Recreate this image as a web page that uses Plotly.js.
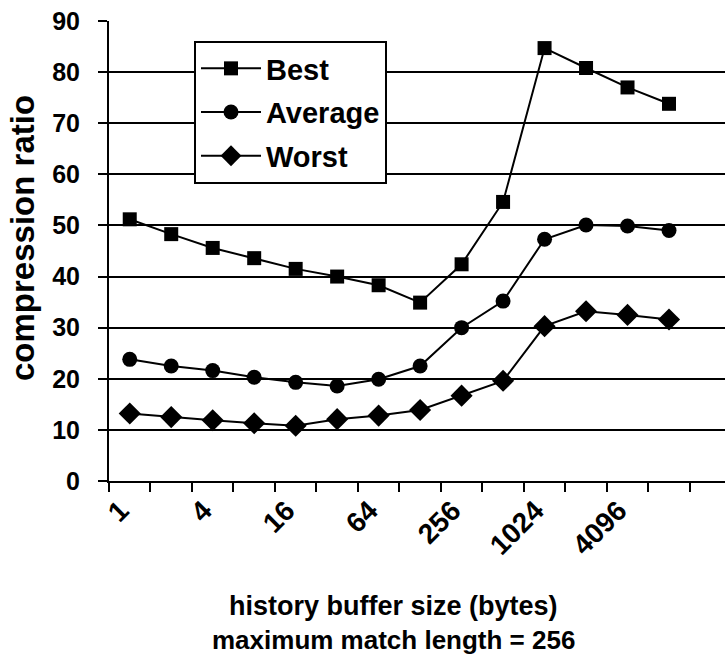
<!DOCTYPE html>
<html>
<head>
<meta charset="utf-8">
<script src="https://cdn.plot.ly/plotly-3.0.1.min.js"></script>
<style>html,body{margin:0;padding:0;background:#fff;}#chart{width:725px;height:656px;}</style>
</head>
<body>
<div id="chart"></div>
<script>
// Category labels (history buffer size, bytes)
const bufferSizes = ['1','2','4','8','16','32','64','128','256','512','1024','2048','4096','8192'];
const tickLabels = ['1','','4','','16','','64','','256','','1024','','4096',''];
// Series values (compression ratio)
const bestValues    = [51.2, 48.3, 45.6, 43.6, 41.5, 40.0, 38.3, 34.9, 42.4, 54.6, 84.7, 80.8, 77.0, 73.8];
const averageValues = [23.8, 22.5, 21.6, 20.3, 19.3, 18.6, 19.9, 22.5, 30.0, 35.2, 47.3, 50.1, 49.9, 49.0];
const worstValues   = [13.2, 12.5, 11.9, 11.3, 10.8, 12.1, 12.8, 13.9, 16.7, 19.6, 30.3, 33.2, 32.5, 31.6];

const FONT = '"Liberation Sans", Arial, sans-serif';
const line = {color: '#000', width: 2};

const traces = [
  {name: 'Best', x: bufferSizes, y: bestValues, mode: 'lines+markers', line: line, legendgroup: 'a',
   marker: {symbol: 'square', size: 14, color: '#000'}},
  {name: 'Average', x: bufferSizes, y: averageValues, mode: 'lines+markers', line: line, legendgroup: 'b',
   marker: {symbol: 'circle', size: 15, color: '#000'}},
  {name: 'Worst', x: bufferSizes, y: worstValues, mode: 'lines+markers', line: line, legendgroup: 'c',
   marker: {symbol: 'diamond', size: 17, color: '#000'}}
];

const layout = {
  width: 725, height: 656,
  margin: {l: 109, r: 0, t: 21, b: 175},
  paper_bgcolor: '#fff', plot_bgcolor: '#fff',
  font: {family: FONT, color: '#000', size: 24, weight: 'bold'},
  showlegend: true,
  legend: {
    x: (194 - 109) / 616, y: 1 - (41 - 21) / 460, xanchor: 'left', yanchor: 'top',
    bgcolor: '#fff', bordercolor: '#000', borderwidth: 2,
    font: {family: FONT, size: 29, weight: 'bold', color: '#000'},
    itemwidth: 60, tracegroupgap: 3
  },
  xaxis: {
    type: 'category',
    categoryorder: 'array', categoryarray: bufferSizes,
    range: [-0.5, 14.35],
    tickmode: 'array', tickvals: bufferSizes, ticktext: tickLabels,
    tickson: 'boundaries',
    ticks: 'outside', ticklen: 9, tickwidth: 2, tickcolor: '#000',
    tickangle: -45, ticklabelshift: -9,
    tickfont: {family: FONT, size: 28, weight: 'bold', color: '#000'},
    showline: true, linecolor: '#000', linewidth: 2,
    showgrid: false, zeroline: false, fixedrange: true
  },
  yaxis: {
    range: [0, 90], dtick: 10, tick0: 0,
    ticks: 'outside', ticklen: 9, tickwidth: 2, tickcolor: '#000',
    ticklabelstandoff: 13,
    tickfont: {family: FONT, size: 25, weight: 'bold', color: '#000'},
    showline: true, linecolor: '#000', linewidth: 2,
    showgrid: true, gridcolor: '#000', gridwidth: 2,
    zeroline: false, fixedrange: true
  },
  annotations: [
    {text: 'compression ratio', textangle: -90, xref: 'paper', yref: 'paper',
     x: 0, xshift: 22 - 109, y: (481 - 238) / 460, xanchor: 'center', yanchor: 'middle', showarrow: false,
     font: {family: FONT, size: 33, weight: 'bold', color: '#000'}},
    {text: 'history buffer size (bytes)', xref: 'paper', yref: 'paper',
     x: (393 - 109) / 616, y: (481 - 606) / 460, xanchor: 'center', yanchor: 'middle', showarrow: false,
     font: {family: FONT, size: 27, weight: 'bold', color: '#000'}},
    {text: 'maximum match length = 256', xref: 'paper', yref: 'paper',
     x: (393 - 109) / 616, y: (481 - 640) / 460, xanchor: 'center', yanchor: 'middle', showarrow: false,
     font: {family: FONT, size: 26, weight: 'bold', color: '#000'}}
  ]
};

Plotly.newPlot('chart', traces, layout, {staticPlot: true, displayModeBar: false});
</script>
</body>
</html>
